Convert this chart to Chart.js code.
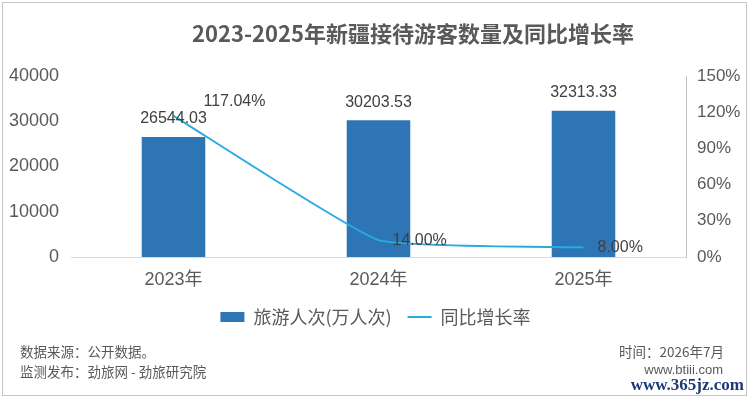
<!DOCTYPE html>
<html>
<head>
<meta charset="utf-8">
<script src="https://cdn.jsdelivr.net/npm/chart.js@4.4.1/dist/chart.umd.min.js"></script>
<style>
  html, body { margin: 0; padding: 0; background: #ffffff; }
  #wrap { position: relative; width: 751px; height: 400px; overflow: hidden; background: #fff; }
  #frame { position: absolute; left: 2px; top: 2px; width: 743px; height: 392px; border: 1.5px solid #c4c4c4; box-sizing: content-box; }
  #chart { position: absolute; left: 0; top: 0; }
  .txt { position: absolute; font-family: "Noto Sans CJK SC", "Liberation Sans", sans-serif; color: #595959; white-space: nowrap; line-height: 1; }
  #title { left: 413px; top: 32px; transform: translate(-50%, -50%); font-size: 22px; font-weight: bold; }
  #src { left: 20px; top: 352px; transform: translateY(-50%); font-size: 13.5px; }
  #pub { left: 20px; top: 372px; transform: translateY(-50%); font-size: 13.5px; }
  #time { right: 27px; top: 352px; transform: translateY(-50%); font-size: 13.5px; }
  #site { right: 28px; top: 369px; transform: translateY(-50%); font-size: 13px; font-family: "Liberation Sans", sans-serif; }
  #wm { right: 7px; top: 384px; transform: translateY(-50%); font-size: 17px; font-weight: bold; color: #1d3a78; font-family: "Liberation Serif", "DejaVu Serif", serif; }
</style>
</head>
<body>
<div id="wrap">
  <canvas id="chart" width="751" height="400"></canvas>
  <div id="frame"></div>
  <div class="txt" id="title">2023-2025年新疆接待游客数量及同比增长率</div>
  <div class="txt" id="src">数据来源：公开数据。</div>
  <div class="txt" id="pub">监测发布：劲旅网 - 劲旅研究院</div>
  <div class="txt" id="time">时间：2026年7月</div>
  <div class="txt" id="site">www.btiii.com</div>
  <div class="txt" id="wm">www.365jz.com</div>
</div>
<script>
// ---- data ----
const categories = ['2023年', '2024年', '2025年'];
const visitors = [26544.03, 30203.53, 32313.33];      // 旅游人次(万人次)
const growthRate = [117.04, 14.00, 8.00];            // 同比增长率 (%)
const leftTicks = [0, 10000, 20000, 30000, 40000];
const rightTicks = [0, 30, 60, 90, 120, 150];
const seriesNames = ['旅游人次(万人次)', '同比增长率'];

const FONT_LATIN = '"Liberation Sans", "Noto Sans CJK SC", sans-serif';
const FONT_CJK = '"Noto Sans CJK SC", "Liberation Sans", sans-serif';
const BAR_COLOR = '#2E75B6';
const LINE_COLOR = '#29ABE0';

const labelPlugin = {
  id: 'valueLabels',
  afterDatasetsDraw(chart) {
    const ctx = chart.ctx;
    ctx.save();
    ctx.font = '16px ' + FONT_LATIN;
    ctx.fillStyle = '#404040';
    ctx.textBaseline = 'middle';
    const barMeta = chart.getDatasetMeta(0);
    ctx.textAlign = 'center';
    barMeta.data.forEach((el, i) => {
      ctx.fillText(visitors[i].toFixed(2), el.x, el.y - 18);
    });
    const lineMeta = chart.getDatasetMeta(1);
    ctx.textAlign = 'left';
    lineMeta.data.forEach((el, i) => {
      const dx = i === 0 ? 30 : 14;
      const dy = i === 0 ? -14 : 0;
      ctx.fillText(growthRate[i].toFixed(2) + '%', el.x + dx, el.y + dy);
    });
    ctx.restore();
  }
};

new Chart(document.getElementById('chart'), {
  data: {
    labels: categories,
    datasets: [
      {
        type: 'bar',
        label: seriesNames[0],
        data: visitors,
        backgroundColor: BAR_COLOR,
        borderWidth: 0,
        yAxisID: 'y',
        barPercentage: 0.31,
        categoryPercentage: 1.0,
        pointStyle: 'rect',
        order: 1
      },
      {
        type: 'line',
        label: seriesNames[1],
        data: growthRate,
        borderColor: LINE_COLOR,
        backgroundColor: LINE_COLOR,
        borderWidth: 2,
        pointRadius: 0,
        pointStyle: 'line',
        tension: 0.12,
        yAxisID: 'y1',
        order: 0
      }
    ]
  },
  options: {
    responsive: false,
    animation: false,
    devicePixelRatio: 1,
    layout: { padding: { left: 0, right: 0, top: 76, bottom: 64 } },
    plugins: {
      title: { display: false },
      tooltip: { enabled: false },
      legend: {
        display: true,
        position: 'bottom',
        labels: {
          usePointStyle: true,
          pointStyleWidth: 24,
          boxHeight: 10,
          padding: 16,
          color: '#595959',
          font: { size: 18, family: FONT_CJK },
          sort: (a, b) => a.datasetIndex - b.datasetIndex
        }
      }
    },
    scales: {
      x: {
        grid: { display: false, drawTicks: false },
        border: { display: true, color: '#D9D9D9', width: 1 },
        ticks: { color: '#595959', font: { size: 18, family: FONT_LATIN }, padding: 12 },
        afterFit: (s) => { s.height = 35; }
      },
      y: {
        position: 'left',
        min: 0, max: 40000,
        afterBuildTicks: (s) => { s.ticks = leftTicks.map(v => ({ value: v })); },
        grid: { display: false, drawTicks: false },
        border: { display: false },
        ticks: { color: '#595959', font: { size: 18, family: FONT_LATIN }, padding: 12, callback: (v) => String(v) },
        afterFit: (s) => { s.width = 71; }
      },
      y1: {
        position: 'right',
        min: 0, max: 150,
        afterBuildTicks: (s) => { s.ticks = rightTicks.map(v => ({ value: v })); },
        grid: { display: false, drawTicks: false },
        border: { display: true, color: '#BFBFBF', width: 1 },
        ticks: { color: '#595959', font: { size: 17, family: FONT_LATIN }, padding: 11, callback: (v) => v + '%' },
        afterFit: (s) => { s.width = 65; }
      }
    }
  },
  plugins: [labelPlugin]
});
</script>
</body>
</html>
